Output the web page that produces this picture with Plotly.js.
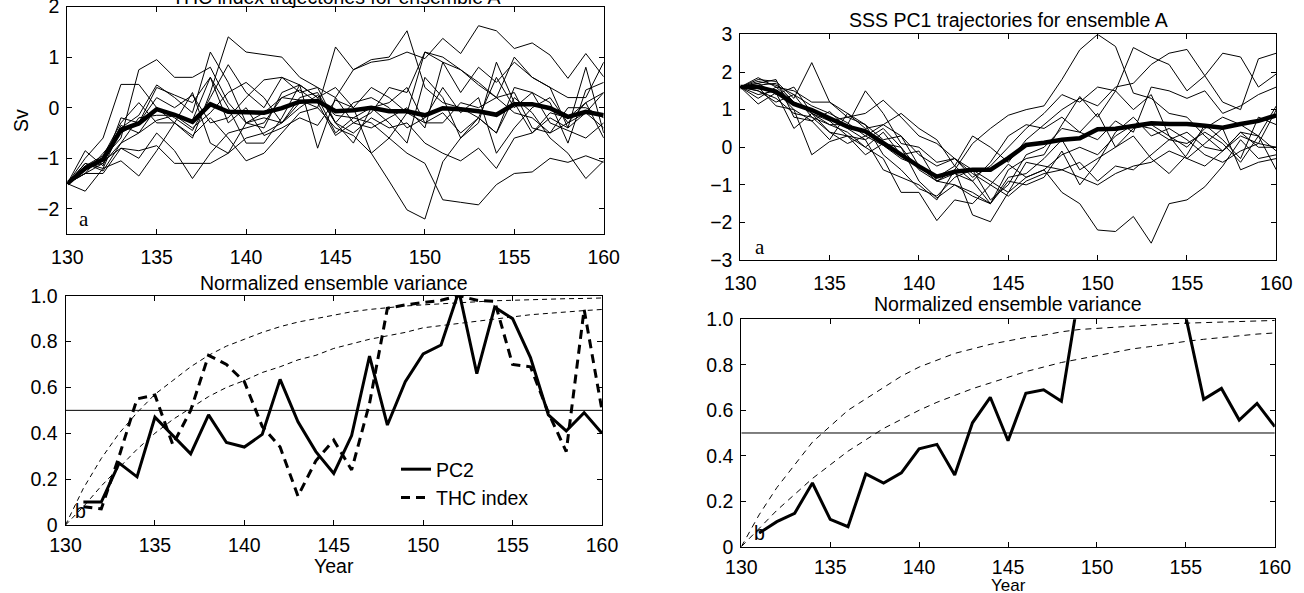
<!DOCTYPE html>
<html>
<head>
<meta charset="utf-8">
<script src="https://cdn.plot.ly/plotly-3.0.1.min.js"></script>
<style>html,body{margin:0;padding:0;background:#fff;}#chart{width:1304px;height:593px;}</style>
</head>
<body>
<div id="chart"></div>
<script>
// ---------- data ----------
const years = [130,131,132,133,134,135,136,137,138,139,140,141,142,143,144,145,146,147,148,149,150,151,152,153,154,155,156,157,158,159,160];
const yearsFrom131 = years.slice(1);
const xTicks = [130,135,140,145,150,155,160];

// panel a (left): THC index trajectories (Sv), 12 members + ensemble mean
const thcMean = [-1.5,-1.2,-1.02,-0.44,-0.31,-0.03,-0.14,-0.28,0.07,-0.08,-0.09,-0.1,-0.01,0.12,0.13,-0.07,-0.05,0.0,-0.07,-0.07,-0.15,-0.01,-0.03,-0.07,-0.14,0.07,0.07,-0.01,-0.18,-0.08,-0.15];
const thcRuns = [
 [-1.5,-1.3,-1.1,-0.7,-0.5,0.0,-0.3,-0.6,0.3,1.4,1.1,1.05,1.0,0.6,0.4,-0.3,-0.5,-0.2,-0.4,-0.3,-0.7,-0.9,-1.05,-0.8,-1.2,-0.6,-0.5,-0.2,-0.4,-0.1,-0.4],
 [-1.5,-1.2,-1.0,-0.6,0.75,0.95,0.6,0.6,0.8,0.1,-0.3,-0.4,0.3,0.45,0.2,0.4,0.0,-0.9,-0.6,-0.1,1.1,1.0,0.75,0.45,0.2,0.3,-0.4,-0.5,-0.3,0.1,0.3],
 [-1.5,-1.0,-0.6,0.46,0.46,0.0,-0.2,-0.45,0.2,0.85,0.3,0.0,0.6,0.45,-0.8,0.2,0.75,0.95,1.0,1.52,0.4,0.1,0.0,-0.2,-0.5,0.4,0.3,0.1,-0.7,0.35,0.5],
 [-1.5,-1.1,-1.2,-0.4,-0.15,0.45,0.2,-0.1,1.1,0.5,-0.3,-0.1,0.2,0.15,0.0,1.2,0.75,0.9,0.95,1.1,0.97,1.37,1.07,1.62,1.52,1.17,1.28,1.04,0.58,1.07,0.61],
 [-1.5,-1.2,-1.05,-0.8,-1.0,-0.5,-0.85,-1.4,-0.9,-0.5,-0.4,-0.3,0.2,0.35,0.1,-0.55,-0.3,-0.1,0.4,0.3,1.1,0.9,0.3,0.8,0.5,0.9,0.6,0.4,0.2,0.2,0.9],
 [-1.5,-1.3,-1.3,-0.8,-0.85,-0.75,-1.1,-1.1,-1.1,-0.9,-0.6,-0.5,-0.3,0.1,0.15,-0.15,-0.2,-0.3,-0.6,-0.9,-1.1,-1.82,-1.87,-1.92,-1.52,-1.3,-1.27,-1.0,-1.08,-0.95,-1.08],
 [-1.5,-1.65,-1.2,-1.05,-1.35,-0.85,-0.3,-0.55,-0.2,-0.6,-1.05,-0.9,-0.5,-0.1,0.0,-0.4,-0.55,-0.9,-1.45,-2.02,-2.2,-1.07,-0.6,-0.2,-0.5,0.2,-0.1,-0.6,-0.9,-1.4,-1.05],
 [-1.5,-0.85,-1.15,-0.2,-0.3,0.2,0.0,0.25,-0.3,-0.2,0.2,0.55,0.6,0.3,0.4,0.2,-0.3,-0.4,-0.2,0.0,-0.4,0.9,0.75,0.5,0.2,1.0,0.6,0.4,-0.4,0.8,-0.5],
 [-1.5,-1.3,-0.9,-0.5,-0.3,0.4,0.25,0.1,0.6,0.0,-0.7,-0.7,-0.2,0.45,0.2,-0.5,-0.2,0.0,-0.3,-0.7,0.6,0.2,-0.6,-0.3,0.9,0.1,-0.5,-0.1,-0.2,0.1,-0.6],
 [-1.5,-1.15,-0.95,-0.3,0.1,-0.3,-0.3,0.3,-0.7,-0.9,-0.3,-0.2,-0.3,0.0,0.25,-0.3,-0.7,0.0,0.1,0.4,-0.3,-0.3,0.1,0.0,0.2,-0.1,-0.2,-0.5,0.0,0.0,-0.2],
 [-1.5,-1.2,-1.1,-0.35,-0.5,-0.25,-0.15,-0.25,0.6,-0.3,0.0,-0.55,-0.4,-0.2,-0.35,0.15,0.0,0.4,0.2,-0.1,-0.3,-0.1,-0.5,-0.2,0.6,0.0,0.3,-0.3,-0.45,-0.6,-0.3],
 [-1.5,-1.1,-1.25,-0.7,-0.2,-0.15,-0.15,-0.4,-0.1,0.3,0.5,0.2,-0.3,0.2,0.3,-0.3,0.1,0.2,0.0,-0.4,-0.2,0.4,-0.1,0.2,-0.9,-0.4,0.0,0.2,-0.3,-0.1,0.3]
];

// panel a (right): SSS PC1 trajectories, 12 members + ensemble mean
const sssMean = [1.6,1.6,1.48,1.15,0.99,0.77,0.55,0.42,0.11,-0.2,-0.51,-0.78,-0.65,-0.6,-0.6,-0.29,0.06,0.12,0.2,0.24,0.48,0.49,0.55,0.64,0.62,0.62,0.57,0.52,0.62,0.7,0.85];
const sssRuns = [
 [1.6,1.75,1.65,1.4,1.1,0.9,0.65,0.3,0.05,-0.3,-0.5,-0.9,-0.6,0.1,0.5,0.85,1.0,1.1,1.8,2.59,3.0,2.68,1.44,1.3,0.9,0.8,0.3,-0.1,0.4,0.3,1.1],
 [1.6,1.8,1.75,1.3,2.25,1.2,0.9,0.5,0.6,0.3,-0.2,-0.5,-0.3,-0.7,-1.0,-0.45,-0.8,-0.6,-0.2,0.0,-0.2,0.3,0.6,0.5,0.2,0.4,0.0,-0.1,0.3,0.1,0.0],
 [1.6,1.5,1.2,1.4,0.8,0.6,0.6,1.5,0.9,0.1,0.0,-0.4,-0.3,-0.6,-0.9,-1.2,-0.8,-0.6,-1.2,-1.5,-2.2,-2.24,-1.84,-2.55,-1.5,-1.4,-1.05,-0.5,0.2,-0.3,-0.2],
 [1.6,1.65,1.7,1.2,1.0,0.7,0.8,0.9,1.25,0.8,0.3,0.1,-0.3,-0.8,-0.5,0.0,0.5,0.9,1.4,1.2,1.6,1.5,2.65,2.4,2.2,1.5,1.9,1.2,1.0,2.35,2.5],
 [1.6,1.5,1.3,0.9,0.8,0.4,0.1,0.3,0.6,0.9,0.5,0.2,-0.5,-0.9,-0.4,0.3,0.6,0.5,0.8,0.4,0.2,0.7,0.4,1.6,1.5,1.3,1.5,0.9,1.1,1.4,1.6],
 [1.6,1.3,1.6,1.2,0.9,0.6,0.4,0.0,-0.3,-1.2,-1.2,-1.95,-1.4,-1.5,-1.0,-1.3,-0.9,-0.7,-0.6,-0.4,-0.9,-0.5,-0.6,-0.2,0.2,0.1,0.4,0.1,-0.4,0.3,-0.1],
 [1.6,1.4,1.5,1.0,0.7,0.95,0.5,0.2,-0.6,-0.8,-1.0,-1.4,-0.6,-1.8,-1.98,-1.2,-0.4,-0.5,-0.6,-0.8,-1.0,-0.7,-0.5,-0.4,-0.1,-0.3,-0.5,-0.1,0.4,0.0,0.0],
 [1.6,1.85,1.6,1.5,1.2,1.2,0.8,0.6,0.2,0.3,-0.5,-0.8,-0.5,0.3,0.0,-0.4,0.2,0.6,1.0,1.3,1.1,1.6,1.7,2.2,2.5,2.6,1.9,2.5,2.4,1.6,1.95],
 [1.6,1.15,1.45,0.5,0.9,0.7,0.3,-0.2,0.1,0.0,-0.6,-0.9,-1.0,-1.2,-1.5,-0.8,-0.7,-0.3,0.2,-0.6,-0.3,0.0,0.5,0.6,0.3,-0.3,0.1,0.5,-0.6,-0.4,-0.3],
 [1.6,1.7,1.4,1.6,0.9,0.4,0.3,0.2,0.5,0.0,-0.9,-1.35,-1.0,-1.3,-1.5,-0.9,-1.0,-0.8,-0.1,-1.0,-0.4,0.4,0.8,0.3,0.5,0.2,-0.2,-0.4,-0.1,0.1,1.0],
 [1.6,1.6,1.1,1.0,-0.2,0.15,0.3,0.0,0.4,-0.2,-0.1,-0.9,-0.7,-0.9,-1.5,-0.6,-0.3,-0.2,0.6,1.35,0.8,1.5,1.0,1.4,0.3,0.0,0.5,0.8,0.6,0.3,-0.6],
 [1.6,1.7,1.8,0.8,0.7,0.2,0.9,0.6,-0.2,-0.6,-1.1,-1.3,-0.8,-0.6,-1.4,-1.0,-0.2,0.0,0.5,0.4,0.9,0.0,0.3,-0.3,-0.7,-0.2,0.6,0.2,-0.3,0.8,0.6]
];

// panel b (left): normalized ensemble variance, years 131..160
const pc2VarLeft = [0.10,0.10,0.27,0.21,0.47,0.39,0.31,0.48,0.36,0.34,0.395,0.635,0.45,0.32,0.225,0.39,0.737,0.436,0.625,0.746,0.785,1.02,0.66,0.95,0.90,0.73,0.48,0.41,0.49,0.40];
const thcVarLeft = [0.08,0.07,0.30,0.55,0.567,0.35,0.50,0.74,0.70,0.625,0.43,0.34,0.126,0.28,0.37,0.24,0.53,0.945,0.96,0.97,0.98,1.0,0.98,0.975,0.70,0.69,0.49,0.32,0.94,0.50];
const refFastLeft = [0,0.16,0.29,0.40,0.49,0.57,0.63,0.69,0.74,0.78,0.81,0.84,0.865,0.885,0.90,0.915,0.93,0.94,0.948,0.955,0.96,0.965,0.97,0.975,0.978,0.98,0.983,0.985,0.987,0.988,0.99];
const refSlowLeft = [0,0.08,0.17,0.25,0.33,0.40,0.46,0.51,0.56,0.60,0.63,0.665,0.69,0.72,0.74,0.77,0.79,0.81,0.825,0.84,0.86,0.87,0.88,0.89,0.90,0.91,0.917,0.923,0.93,0.935,0.94];

// panel b (right): normalized ensemble variance of SSS PC1, years 131..160
const pc1VarRight = [0.06,0.11,0.147,0.28,0.12,0.088,0.32,0.28,0.325,0.43,0.45,0.315,0.545,0.657,0.466,0.675,0.69,0.64,1.12,1.2,1.25,1.2,1.15,1.1,1.01,0.648,0.696,0.557,0.63,0.528];
const refFastRight = [0,0.14,0.26,0.36,0.46,0.53,0.60,0.65,0.70,0.75,0.79,0.82,0.85,0.87,0.89,0.905,0.92,0.93,0.945,0.955,0.96,0.966,0.972,0.977,0.98,0.983,0.986,0.989,0.991,0.993,0.995];
const refSlowRight = [0,0.08,0.16,0.23,0.30,0.36,0.42,0.47,0.52,0.56,0.60,0.635,0.665,0.695,0.72,0.745,0.77,0.79,0.81,0.825,0.84,0.855,0.87,0.88,0.893,0.903,0.912,0.92,0.928,0.935,0.94];

const halfLevel = [0.5, 0.5];
const halfYears = [130, 160];

const varTickVals = [0,0.2,0.4,0.6,0.8,1.0];
const varTickText = ['0','0.2','0.4','0.6','0.8','1.0'];

// ---------- figure ----------
const W = 1304, H = 593;
const FONT = 'Liberation Sans, Arial, Helvetica, sans-serif';
const FS = 19.5;
const px = v => v / W;
const py = v => 1 - v / H;

const traces = [];
function thin(x, y, xa, ya, extra) {
  return Object.assign({x, y, xaxis: xa, yaxis: ya, type: 'scatter', mode: 'lines',
    line: {color: '#000', width: 1}, showlegend: false, hoverinfo: 'skip'}, extra || {});
}
thcRuns.forEach(r => traces.push(thin(years, r, 'x', 'y')));
traces.push(thin(years, thcMean, 'x', 'y', {line: {color: '#000', width: 4.5}}));
sssRuns.forEach(r => traces.push(thin(years, r, 'x2', 'y2')));
traces.push(thin(years, sssMean, 'x2', 'y2', {line: {color: '#000', width: 4.5}}));

// bottom-left
traces.push(thin(halfYears, halfLevel, 'x3', 'y3'));
traces.push(thin(years, refFastLeft, 'x3', 'y3', {line: {color: '#000', width: 1, dash: '5px,4px'}}));
traces.push(thin(years, refSlowLeft, 'x3', 'y3', {line: {color: '#000', width: 1, dash: '5px,4px'}}));
traces.push(thin(yearsFrom131, pc2VarLeft, 'x3', 'y3', {name: 'PC2', showlegend: true, line: {color: '#000', width: 3}}));
traces.push(thin(yearsFrom131, thcVarLeft, 'x3', 'y3', {name: 'THC index', showlegend: true, line: {color: '#000', width: 3, dash: '9px,6px'}}));

// bottom-right
traces.push(thin(halfYears, halfLevel, 'x4', 'y4'));
traces.push(thin(years, refFastRight, 'x4', 'y4', {line: {color: '#000', width: 1, dash: '6px,5px'}}));
traces.push(thin(years, refSlowRight, 'x4', 'y4', {line: {color: '#000', width: 1, dash: '6px,5px'}}));
traces.push(thin(yearsFrom131, pc1VarRight, 'x4', 'y4', {line: {color: '#000', width: 3}}));

function axisBase(domain, anchor, extra) {
  return Object.assign({
    domain, anchor, showline: true, mirror: 'ticks', linecolor: '#000', linewidth: 1,
    ticks: 'inside', ticklen: 5, tickwidth: 1, tickcolor: '#000',
    showgrid: false, zeroline: false, fixedrange: true, ticklabeloverflow: 'allow',
    tickfont: {family: FONT, size: FS, color: '#000'}
  }, extra);
}
const xCommon = {range: [130, 160], tickmode: 'array', tickvals: xTicks, ticktext: xTicks.map(String), ticklabelstandoff: 5};

const layout = {
  width: W, height: H,
  margin: {l: 0, r: 0, t: 0, b: 0},
  paper_bgcolor: '#fff', plot_bgcolor: '#fff',
  font: {family: FONT, size: FS, color: '#000'},
  xaxis:  axisBase([px(67.3), px(603.7)], 'y',  Object.assign({}, xCommon)),
  yaxis:  axisBase([py(234.2), py(6.5)], 'x',  {range: [-2.5, 2], tickmode: 'array', tickvals: [-2,-1,0,1,2], ticklabelstandoff: 3}),
  xaxis2: axisBase([px(740.3), px(1276.3)], 'y2', Object.assign({}, xCommon)),
  yaxis2: axisBase([py(260.1), py(34.4)], 'x2', {range: [-3, 3], tickmode: 'array', tickvals: [-3,-2,-1,0,1,2,3], ticklabelstandoff: 3}),
  xaxis3: axisBase([px(65.5), px(602)], 'y3', Object.assign({}, xCommon, {ticklabelstandoff: 3})),
  yaxis3: axisBase([py(525), py(295.7)], 'x3', {range: [0, 1], tickmode: 'array', tickvals: varTickVals, ticktext: varTickText, ticklabelstandoff: 3}),
  xaxis4: axisBase([px(741.3), px(1274.8)], 'y4', Object.assign({}, xCommon, {ticklabelstandoff: 3})),
  yaxis4: axisBase([py(546.7), py(319.3)], 'x4', {range: [0, 1], tickmode: 'array', tickvals: varTickVals, ticktext: varTickText, ticklabelstandoff: 3}),
  showlegend: true,
  legend: {
    x: px(396), y: py(450), xanchor: 'left', yanchor: 'top',
    bgcolor: 'rgba(0,0,0,0)', borderwidth: 0,
    font: {family: FONT, size: FS, color: '#000'},
    tracegroupgap: 0, itemwidth: 30
  },
  annotations: [
    {text: 'THC index trajectories for ensemble A', x: px(335.5), y: py(-3), xref: 'paper', yref: 'paper', showarrow: false, xanchor: 'center', yanchor: 'middle', font: {family: FONT, size: FS}},
    {text: 'SSS PC1 trajectories for ensemble A', x: px(1008), y: py(20), xref: 'paper', yref: 'paper', showarrow: false, xanchor: 'center', yanchor: 'middle', font: {family: FONT, size: FS}},
    {text: 'Normalized ensemble variance', x: px(333.8), y: py(283), xref: 'paper', yref: 'paper', showarrow: false, xanchor: 'center', yanchor: 'middle', font: {family: FONT, size: FS}},
    {text: 'Normalized ensemble variance', x: px(1008), y: py(304), xref: 'paper', yref: 'paper', showarrow: false, xanchor: 'center', yanchor: 'middle', font: {family: FONT, size: FS}},
    {text: 'Year', x: px(333.8), y: py(566), xref: 'paper', yref: 'paper', showarrow: false, xanchor: 'center', yanchor: 'middle', font: {family: FONT, size: FS}},
    {text: 'Year', x: px(1008), y: py(585), xref: 'paper', yref: 'paper', showarrow: false, xanchor: 'center', yanchor: 'middle', font: {family: FONT, size: 17}},
    {text: 'Sv', x: px(21), y: py(121), xref: 'paper', yref: 'paper', showarrow: false, xanchor: 'center', yanchor: 'middle', textangle: -90, font: {family: FONT, size: FS}},
    {text: 'a', x: px(83.5), y: py(219), xref: 'paper', yref: 'paper', showarrow: false, xanchor: 'center', yanchor: 'middle', font: {family: 'Liberation Serif, DejaVu Serif, serif', size: 21}},
    {text: 'a', x: px(759.5), y: py(247), xref: 'paper', yref: 'paper', showarrow: false, xanchor: 'center', yanchor: 'middle', font: {family: 'Liberation Serif, DejaVu Serif, serif', size: 21}},
    {text: 'b', x: px(80), y: py(511), xref: 'paper', yref: 'paper', showarrow: false, xanchor: 'center', yanchor: 'middle', font: {family: FONT, size: FS}},
    {text: 'b', x: px(759.8), y: py(533), xref: 'paper', yref: 'paper', showarrow: false, xanchor: 'center', yanchor: 'middle', font: {family: FONT, size: FS}}
  ]
};

Plotly.newPlot('chart', traces, layout, {staticPlot: true, displayModeBar: false});
</script>
</body>
</html>
